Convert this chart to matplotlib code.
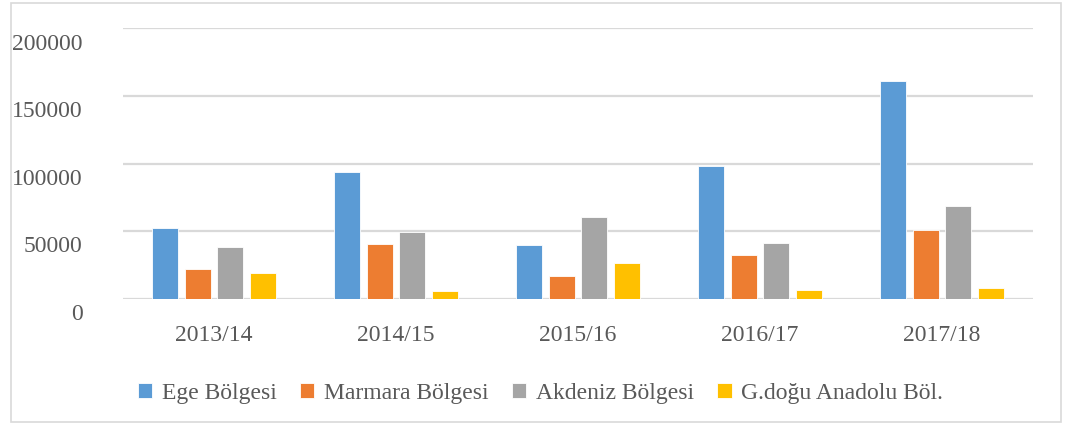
import matplotlib.pyplot as plt
import matplotlib.transforms as mtransforms
from matplotlib.patches import Rectangle
import numpy as np

plt.rcParams['font.family'] = ['Liberation Serif', 'DejaVu Serif']
plt.rcParams['font.size'] = 17

years = ['2013/14', '2014/15', '2015/16', '2016/17', '2017/18']
ege = [52300, 93700, 39700, 98100, 161200]
marmara = [22000, 40400, 16800, 32300, 50800]
akdeniz = [38700, 49500, 60400, 41600, 68800]
gdogu = [19000, 6100, 26800, 6400, 7900]

series = [
    ('Ege Bölgesi', ege, '#5B9BD5'),
    ('Marmara Bölgesi', marmara, '#ED7D31'),
    ('Akdeniz Bölgesi', akdeniz, '#A5A5A5'),
    ('G.doğu Anadolu Böl.', gdogu, '#FFC000'),
]

text_color = '#595959'
grid_color = '#D9D9D9'

fig = plt.figure(figsize=(10.66, 4.23), dpi=100)
ax = fig.add_axes([123 / 1066, 1 - 299 / 423, (1033 - 123) / 1066, (299 - 28.5) / 423])

x = np.arange(len(years))
pitch = 0.181
width = 0.143
for i, (name, vals, col) in enumerate(series):
    ax.bar(x + (i - 1.5) * pitch, vals, width, color=col, label=name,
           edgecolor='white', linewidth=0.6, zorder=3)

ax.set_xlim(-0.5, len(years) - 0.5)
ax.set_ylim(0, 200000)
ax.set_yticks(np.arange(0, 200001, 50000))
ax.set_yticklabels([str(v) for v in range(0, 200001, 50000)])
ax.set_xticks(x)
ax.set_xticklabels(years)

ax.grid(axis='y', color=grid_color, linewidth=1.6, zorder=0)
for s in ax.spines.values():
    s.set_visible(False)

ax.tick_params(axis='x', length=0, pad=19, colors=text_color)
ax.tick_params(axis='y', length=0, pad=29, colors=text_color)

# y labels sit a bit below their gridlines in the original
offset = mtransforms.ScaledTranslation(0, -13 / 100, fig.dpi_scale_trans)
for lbl in ax.get_yticklabels():
    lbl.set_transform(lbl.get_transform() + offset)

fig.legend(loc='center', bbox_to_anchor=(0.507, 1 - 393 / 423), ncol=4,
           frameon=False, handlelength=0.6, handleheight=0.6,
           handletextpad=0.4, columnspacing=1.0, labelcolor=text_color)

fig.patches.append(Rectangle((11 / 1066, 1 / 423), 1050 / 1066, 419 / 423,
                             transform=fig.transFigure, fill=False,
                             edgecolor=grid_color, linewidth=1.2))

fig.savefig('out.png', dpi=100)
